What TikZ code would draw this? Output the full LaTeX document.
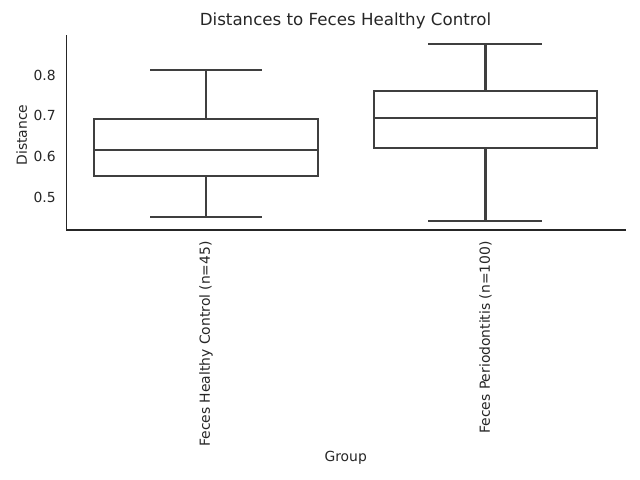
\documentclass[tikz,border=0pt]{standalone}
\usepackage{fontspec}
\setmainfont{DejaVu Sans}
\definecolor{axcol}{HTML}{262626}
\definecolor{boxcol}{HTML}{3F3F3F}
\begin{document}
\begin{tikzpicture}[x=0.72pt,y=-0.72pt,
  spine/.style={draw=axcol,line width=0.9pt},
  boxline/.style={draw=boxcol,line width=1.45pt},
  ticklab/.style={text=axcol,font=\fontsize{10}{12}\selectfont,inner sep=0pt},
  axlab/.style={text=axcol,font=\fontsize{10}{12}\selectfont,inner sep=0pt},
  titlelab/.style={text=axcol,font=\fontsize{12}{14}\selectfont,inner sep=0pt}]
\useasboundingbox[fill=white] (0,0) rectangle (640,480);
% spines
\coordinate (tl) at (66.7,35);
\coordinate (bl) at (66.7,230);
\coordinate (br) at (626,230);
\draw[spine] (tl) -- (bl) -- (br);
% y tick labels
\node[ticklab,anchor=east] (t8) at (56,75) {0.8};
\node[ticklab,anchor=east] (t7) at (56,115.8) {0.7};
\node[ticklab,anchor=east] (t6) at (56,156.6) {0.6};
\node[ticklab,anchor=east] (t5) at (56,197.4) {0.5};
% box 1
\coordinate (w1t) at (206,70);
\coordinate (w1b) at (206,217);
\coordinate (q1t) at (206,118.7);
\coordinate (q1b) at (206,175.7);
\draw[boxline] (94,118.7) rectangle (318,175.7);
\draw[boxline] (94,150) -- (318,150);
\draw[boxline] (w1t) -- (q1t);
\draw[boxline] (q1b) -- (w1b);
\draw[boxline] (150,70) -- (262,70);
\draw[boxline] (150,217) -- (262,217);
% box 2
\coordinate (w2t) at (485.5,43.7);
\coordinate (w2b) at (485.5,220.7);
\coordinate (q2t) at (485.5,90.7);
\coordinate (q2b) at (485.5,147.7);
\draw[boxline] (373.7,90.7) rectangle (597,147.7);
\draw[boxline] (373.7,117.7) -- (597,117.7);
\draw[boxline] (w2t) -- (q2t);
\draw[boxline] (q2b) -- (w2b);
\draw[boxline] (428.3,43.7) -- (541.7,43.7);
\draw[boxline] (428.3,220.7) -- (541.7,220.7);
% x tick labels
\node[ticklab,rotate=90,anchor=east] (x1) at (206,241) {Feces Healthy Control (n=45)};
\node[ticklab,rotate=90,anchor=east] (x2) at (485.5,241) {Feces Periodontitis (n=100)};
% axis labels
\node[axlab] (xl) at (345.7,457.5) {Group};
\node[axlab,rotate=90] (yl) at (21.7,135) {Distance};
% title
\node[titlelab] (ti) at (345.5,21) {Distances to Feces Healthy Control};
\end{tikzpicture}
\end{document}
